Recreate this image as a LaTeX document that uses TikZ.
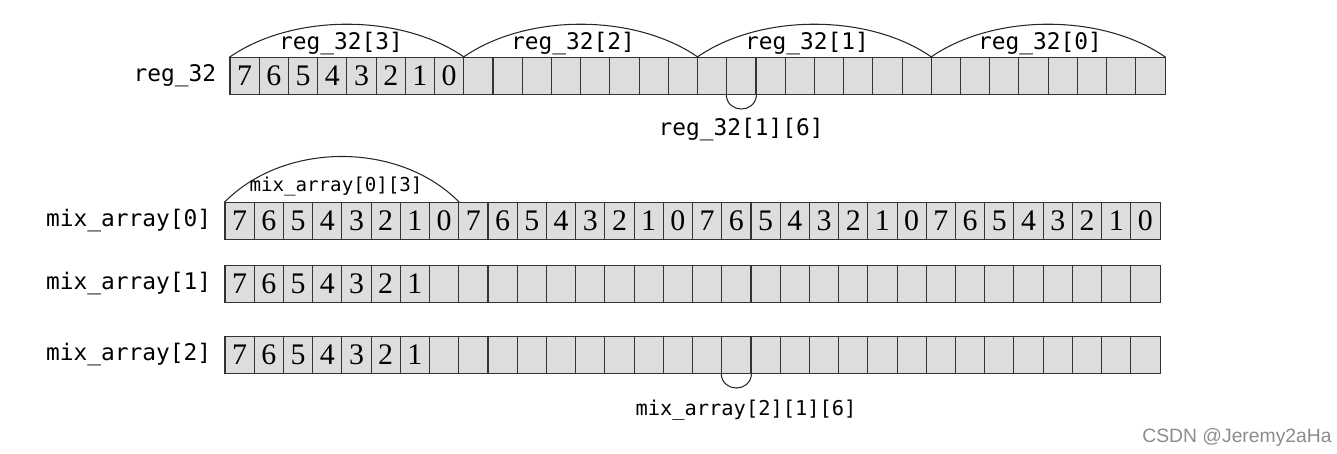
\documentclass[tikz,border=0pt]{standalone}
\usepackage{fontspec}
\setmainfont{Liberation Serif}
\setsansfont{Liberation Sans}
\setmonofont{DejaVu Sans Mono}
\usepackage{xcolor}
\usepackage{tikz}
\usetikzlibrary{positioning}

\definecolor{cellgray}{RGB}{221,221,223}

\begin{document}
\begin{tikzpicture}[x=0.02cm, y=-0.02cm,
    cell/.style={draw=black!80, line width=0.6pt, fill=cellgray, rectangle,
      minimum width=0.5844cm, minimum height=0.73cm, inner sep=0pt,
      font=\fontsize{17pt}{19pt}\selectfont},
    lbl/.style={inner sep=0pt, font=\ttfamily\fontsize{13pt}{15pt}\selectfont},
    smalllbl/.style={inner sep=0pt, font=\ttfamily\fontsize{10.9pt}{13pt}\selectfont},
    bitlbl/.style={inner sep=0pt, font=\ttfamily\fontsize{11.6pt}{14pt}\selectfont},
    brace/.style={draw=black!85, line width=0.6pt}]
  \useasboundingbox (0,0) rectangle (1337,453);

  \foreach \i in {0,...,31} {
    \pgfmathtruncatemacro\d{7-mod(\i,8)}
    \node (r\i) [cell] at ({230+29.22*(\i+0.5)},76) {\ifnum\i<8 \d\fi};
    \node (a\i) [cell] at ({225+29.22*(\i+0.5)},221) {\d};
    \node (b\i) [cell] at ({225+29.22*(\i+0.5)},284) {\ifnum\i<7 \d\fi};
    \node (c\i) [cell] at ({225+29.22*(\i+0.5)},355) {\ifnum\i<7 \d\fi};
  }

  \node (reglbl) [lbl, left=0.26cm of r0] {reg\_32};
  \node (mix0lbl) [lbl, left=0.26cm of a0] {mix\_array[0]};
  \node (mix1lbl) [lbl, left=0.26cm of b0] {mix\_array[1]};
  \node (mix2lbl) [lbl, left=0.26cm of c0] {mix\_array[2]};

  \draw [brace] (r0.north west) .. controls +(63,-44) and +(-63,-44) .. (r7.north east);
  \draw [brace] (r8.north west) .. controls +(63,-44) and +(-63,-44) .. (r15.north east);
  \draw [brace] (r16.north west) .. controls +(63,-44) and +(-63,-44) .. (r23.north east);
  \draw [brace] (r24.north west) .. controls +(63,-44) and +(-63,-44) .. (r31.north east);

  \node (byte3) [lbl] at (341,44) {reg\_32[3]};
  \node (byte2) [lbl] at (573,44) {reg\_32[2]};
  \node (byte1) [lbl] at (807,44) {reg\_32[1]};
  \node (byte0) [lbl] at (1040,44) {reg\_32[0]};

  \draw [brace] (r17.south west) .. controls +(1,19) and +(-1,19) .. (r17.south east);
  \node (bit16) [lbl] at (741,130) {reg\_32[1][6]};

  \draw [brace] (a0.north west) .. controls +(60,-61) and +(-60,-61) .. (a7.north east);
  \node (mixbyte) [smalllbl] at (336,186) {mix\_array[0][3]};

  \draw [brace] (c17.south west) .. controls +(1,19) and +(-1,19) .. (c17.south east);
  \node (mixbit) [bitlbl] at (746,410) {mix\_array[2][1][6]};

  \node (mark) [inner sep=0pt, text=black!45, font=\sffamily\fontsize{11pt}{13pt}\selectfont]
    at (1237,437) {CSDN @Jeremy2aHa};
\end{tikzpicture}
\end{document}
